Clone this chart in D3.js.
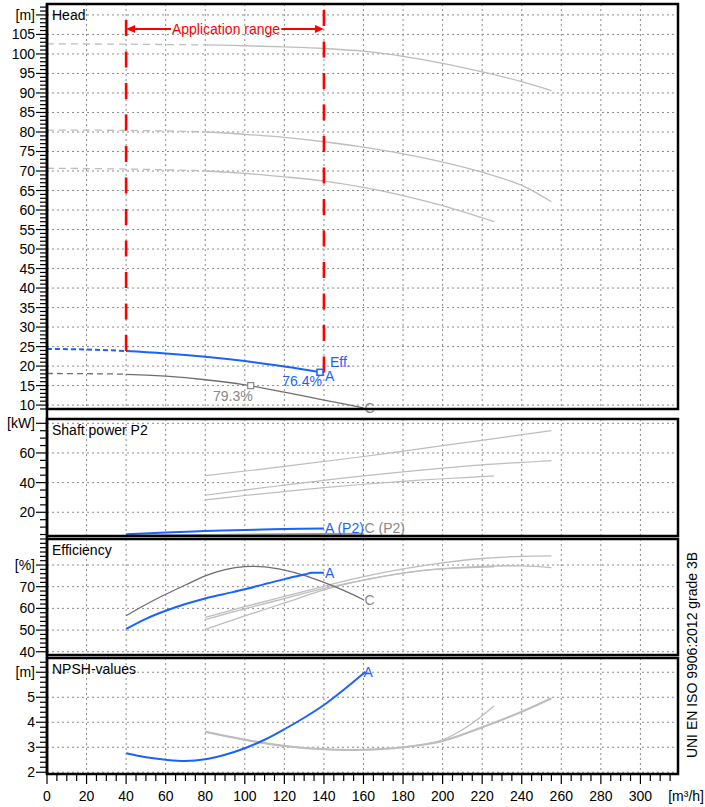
<!DOCTYPE html>
<html>
<head>
  <style>
    body { margin: 0; padding: 0; background-color: #fff; }
    svg text { font-family: "Liberation Sans", Arial, sans-serif; }
  </style>
</head>
<body>
  <svg id="chart" width="705" height="807"></svg>

  <script src="https://d3js.org/d3.v7.min.js"></script>
  <script>
    // ---- data ----
    var flowTicks = [0, 20, 40, 60, 80, 100, 120, 140, 160, 180, 200, 220, 240, 260, 280, 300];

    // head [m³/h, m]
    var headA = [[0, 24.4], [20, 24.25], [40, 23.85], [60, 23.25], [80, 22.4], [100, 21.3], [120, 19.9], [140, 18.3]];
    var headC = [[0, 18.1], [20, 18.05], [40, 17.9], [60, 17.4], [80, 16.5], [100, 15.2], [120, 13.3], [140, 11.3], [160, 9.3]];
    var headG1 = [[0, 102.6], [40, 102.5], [80, 102.3], [100, 102.1], [120, 101.8], [140, 101.4], [160, 100.7], [180, 99.4], [200, 97.6], [220, 95.4], [240, 92.9], [255, 90.6]];
    var headG2 = [[0, 80.5], [40, 80.4], [80, 80.0], [100, 79.4], [120, 78.6], [140, 77.5], [160, 76.1], [180, 74.4], [200, 72.3], [220, 69.7], [240, 66.3], [255, 62.1]];
    var headG3 = [[0, 70.7], [40, 70.5], [80, 70.0], [100, 69.4], [120, 68.5], [140, 67.4], [160, 65.8], [180, 63.7], [200, 61.1], [226, 57.0]];
    var bepA = [138, 18.4];
    var bepC = [103, 15.0];

    // shaft power P2 [kW]
    var powerA = [[40, 5.2], [60, 6.4], [80, 7.3], [100, 8.1], [120, 8.7], [140, 9.1]];
    var powerC = [[40, 4.3], [80, 4.7], [120, 5.1], [160, 5.6]];
    var powerG1 = [[80, 44.7], [120, 50.9], [160, 57.6], [200, 64.9], [255, 75.0]];
    var powerG2 = [[80, 31.5], [100, 35.0], [120, 38.3], [140, 41.5], [160, 44.6], [180, 47.3], [200, 49.8], [220, 52.0], [240, 53.6], [255, 54.8]];
    var powerG3 = [[80, 28.3], [100, 31.3], [120, 34.0], [140, 36.6], [160, 38.9], [180, 40.9], [200, 42.6], [226, 44.5]];

    // efficiency [%]
    var effA = [[40, 50.5], [50, 55.2], [60, 58.9], [70, 62.0], [80, 64.6], [90, 66.7], [100, 68.8], [110, 71.2], [120, 73.5], [130, 75.6], [134, 76.4], [140, 76.4]];
    var effC = [[40, 56.6], [50, 61.8], [60, 66.5], [70, 70.8], [80, 75.0], [90, 77.9], [100, 79.3], [110, 79.1], [120, 77.6], [130, 75.2], [140, 72.0], [150, 68.3], [160, 64.0]];
    var effG1 = [[80, 55.8], [100, 60.8], [120, 65.5], [140, 70.2], [160, 74.6], [180, 78.2], [200, 81.0], [220, 83.0], [240, 84.0], [255, 84.2]];
    var effG2 = [[80, 54.8], [100, 59.8], [120, 64.5], [140, 69.2], [160, 73.0], [180, 76.3], [200, 78.3], [220, 79.4], [240, 79.6], [255, 78.8]];
    var effG3 = [[80, 50.3], [100, 56.5], [120, 62.5], [140, 68.5], [160, 73.0], [180, 76.3], [200, 78.2], [226, 79.2]];

    // NPSH [m]
    var npshA = [[40, 2.76], [50, 2.6], [60, 2.5], [70, 2.45], [80, 2.52], [90, 2.7], [100, 2.96], [110, 3.3], [120, 3.72], [130, 4.18], [140, 4.69], [150, 5.3], [161, 6.02]];
    var npshG1 = [[80, 3.62], [100, 3.3], [120, 3.05], [140, 2.92], [160, 2.9], [180, 3.0], [200, 3.25], [220, 3.8], [240, 4.42], [255, 4.96]];
    var npshG3 = [[80, 3.62], [100, 3.3], [120, 3.05], [140, 2.92], [160, 2.9], [180, 3.0], [200, 3.3], [213, 3.85], [226, 4.65]];

    var appRange = [40, 140];

    // ---- layout ----
    var blue = "#1a62ff", dark = "#6e6e6e", light = "#bdbdbd", red = "#ff0000";
    var svg = d3.select("#chart");
    svg.append("rect").attr("width", 705).attr("height", 807).attr("fill", "#fff");

    var x = d3.scaleLinear().domain([0, 319]).range([47, 678]);

    var panels = {
      head: { top: 4, bottom: 409, domain: [9, 112.8], major: d3.range(10, 111, 5), minor: 1, unit: "[m]", title: "Head" },
      power: { top: 419, bottom: 536, domain: [4, 82.9], major: [20, 40, 60, 80], minor: 5, unit: "[kW]", title: "Shaft power P2" },
      eff: { top: 539, bottom: 655, domain: [38.5, 92], major: [40, 50, 60, 70, 80], minor: 2, unit: "[%]", title: "Efficiency" },
      npsh: { top: 658, bottom: 774, domain: [1.93, 6.57], major: [2, 3, 4, 5, 6], minor: 0.2, unit: "[m]", title: "NPSH-values" }
    };
    var unitAt = { head: 110, power: 80, eff: 80, npsh: 6 };

    Object.keys(panels).forEach(function (k) {
      var p = panels[k];
      p.y = d3.scaleLinear().domain(p.domain).range([p.bottom, p.top]);
      var g = svg.append("g");

      // grid
      flowTicks.forEach(function (f) {
        if (f === 0) return;
        g.append("line")
          .attr("x1", x(f)).attr("x2", x(f))
          .attr("y1", p.top).attr("y2", p.bottom)
          .attr("stroke", "#8a8a8a").attr("stroke-width", 1)
          .attr("stroke-dasharray", "2,3");
      });
      p.major.forEach(function (v) {
        if (v < p.domain[0] || v > p.domain[1]) return;
        g.append("line")
          .attr("x1", x(0)).attr("x2", x(319))
          .attr("y1", p.y(v)).attr("y2", p.y(v))
          .attr("stroke", "#8a8a8a").attr("stroke-width", 1)
          .attr("stroke-dasharray", "2,3");
      });

      // ruler ticks on the left
      var n0 = Math.ceil(p.domain[0] / p.minor), n1 = Math.floor(p.domain[1] / p.minor);
      for (var i = n0; i <= n1; i++) {
        var v = +(i * p.minor).toFixed(3);
        var isMajor = p.major.indexOf(v) >= 0;
        svg.append("line")
          .attr("x1", isMajor ? 36 : 40).attr("x2", 47)
          .attr("y1", p.y(v)).attr("y2", p.y(v))
          .attr("stroke", "#000").attr("stroke-width", 1.2);
      }
      p.major.forEach(function (v) {
        if (v < p.domain[0] || v > p.domain[1]) return;
        svg.append("text")
          .attr("x", 35).attr("y", p.y(v) + 5)
          .attr("text-anchor", "end")
          .attr("font-size", 14)
          .text(v === unitAt[k] ? p.unit : v);
      });

      // title
      svg.append("text")
        .attr("x", 52).attr("y", p.top + 16)
        .attr("font-size", 14)
        .text(p.title);

      // clip for curves
      svg.append("clipPath").attr("id", "clip-" + k)
        .append("rect")
        .attr("x", x(0)).attr("y", p.top)
        .attr("width", x(319) - x(0)).attr("height", p.bottom - p.top);
    });

    function line(p) {
      return d3.line()
        .x(function (d) { return x(d[0]); })
        .y(function (d) { return p.y(d[1]); })
        .curve(d3.curveCatmullRom.alpha(0.5));
    }

    // draws a curve dashed up to `from` and solid after it
    var clipCount = 0;
    function curve(k, data, color, width, from, dash) {
      var p = panels[k];
      var gc = svg.append("g").attr("clip-path", "url(#clip-" + k + ")");
      if (from != null) {
        var idA = "c" + (clipCount++), idB = "c" + (clipCount++);
        svg.append("clipPath").attr("id", idA).append("rect")
          .attr("x", 0).attr("y", 0).attr("width", x(from)).attr("height", 807);
        svg.append("clipPath").attr("id", idB).append("rect")
          .attr("x", x(from)).attr("y", 0).attr("width", 705).attr("height", 807);
        gc.append("path").datum(data)
          .attr("d", line(p)).attr("fill", "none")
          .attr("stroke", color).attr("stroke-width", width)
          .attr("stroke-dasharray", dash)
          .attr("clip-path", "url(#" + idA + ")");
        gc.append("path").datum(data)
          .attr("d", line(p)).attr("fill", "none")
          .attr("stroke", color).attr("stroke-width", width)
          .attr("clip-path", "url(#" + idB + ")");
      } else {
        gc.append("path").datum(data)
          .attr("d", line(p)).attr("fill", "none")
          .attr("stroke", color).attr("stroke-width", width);
      }
    }

    function label(k, q, v, txt, color, dx, dy, anchor) {
      var p = panels[k];
      svg.append("text")
        .attr("x", x(q) + (dx || 0)).attr("y", p.y(v) + (dy || 0))
        .attr("text-anchor", anchor || "start")
        .attr("font-size", 14)
        .attr("fill", color)
        .text(txt);
    }

    // head
    curve("head", headG1, light, 1.3, 80, "7,5");
    curve("head", headG2, light, 1.3, 80, "7,5");
    curve("head", headG3, light, 1.3, 80, "7,5");
    curve("head", headC, dark, 1.3, 40, "6,4");
    curve("head", headA, blue, 2, 40, "5,3");

    // application range
    var hp = panels.head;
    svg.append("line")
      .attr("x1", x(appRange[0])).attr("x2", x(appRange[0]))
      .attr("y1", 20).attr("y2", hp.y(headA[2][1]))
      .attr("stroke", red).attr("stroke-width", 2.6).attr("stroke-dasharray", "16,15.5");
    svg.append("line")
      .attr("x1", x(appRange[1])).attr("x2", x(appRange[1]))
      .attr("y1", 10).attr("y2", hp.y(headA[headA.length - 1][1]))
      .attr("stroke", red).attr("stroke-width", 2.6).attr("stroke-dasharray", "16,15.5");
    var ay = 29;
    svg.append("line")
      .attr("x1", x(appRange[0]) + 4).attr("x2", x(appRange[1]) - 4)
      .attr("y1", ay).attr("y2", ay)
      .attr("stroke", red).attr("stroke-width", 2);
    svg.append("path")
      .attr("d", "M" + x(appRange[0]) + "," + ay + "l9,-4l0,8z")
      .attr("fill", red);
    svg.append("path")
      .attr("d", "M" + x(appRange[1]) + "," + ay + "l-9,-4l0,8z")
      .attr("fill", red);
    var appText = svg.append("text")
      .attr("x", (x(appRange[0]) + x(appRange[1])) / 2 + 1).attr("y", ay + 5)
      .attr("text-anchor", "middle")
      .attr("font-size", 14)
      .attr("fill", red)
      .text("Application range");
    var bb = appText.node().getBBox();
    svg.append("rect")
      .attr("x", bb.x - 1).attr("y", ay - 2).attr("width", bb.width + 2).attr("height", 4)
      .attr("fill", "#fff");
    appText.raise();

    // best efficiency markers
    svg.append("rect")
      .attr("x", x(bepC[0]) - 3).attr("y", hp.y(bepC[1]) - 3)
      .attr("width", 6).attr("height", 6)
      .attr("fill", "#fff").attr("stroke", "#888").attr("stroke-width", 1.2);
    svg.append("rect")
      .attr("x", x(bepA[0]) - 3).attr("y", hp.y(bepA[1]) - 3)
      .attr("width", 6).attr("height", 6)
      .attr("fill", "#fff").attr("stroke", blue).attr("stroke-width", 1.5);
    label("head", bepC[0], bepC[1], "79.3%", "#888", 2, 15, "end");
    label("head", bepA[0], bepA[1], "76.4%", blue, 2, 14, "end");
    label("head", bepA[0], bepA[1], "Eff.", blue, 10, -5);
    label("head", 140, headA[headA.length - 1][1], "A", blue, 1, 8);
    label("head", 160, headC[headC.length - 1][1], "C", "#888", 1, 5);

    // power
    curve("power", powerG1, light, 1.2);
    curve("power", powerG2, light, 1.2);
    curve("power", powerG3, light, 1.2);
    curve("power", powerC, "#999", 2);
    curve("power", powerA, blue, 2);
    label("power", 140, powerA[powerA.length - 1][1], "A (P2)", blue, 1, 5);
    label("power", 160, powerA[powerA.length - 1][1], "C (P2)", "#888", 1, 5);

    // efficiency
    curve("eff", effG1, light, 1.3);
    curve("eff", effG2, light, 1.3);
    curve("eff", effG3, light, 1.3);
    curve("eff", effC, dark, 1.3);
    curve("eff", effA, blue, 2);
    label("eff", 140, effA[effA.length - 1][1], "A", blue, 1, 5);
    label("eff", 160, effC[effC.length - 1][1], "C", "#888", 1, 5);

    // NPSH
    curve("npsh", npshG1, light, 2);
    curve("npsh", npshG3, light, 1.3);
    curve("npsh", npshA, blue, 2);
    label("npsh", 161, npshA[npshA.length - 1][1], "A", blue, -2, 5);

    // panel frames
    Object.keys(panels).forEach(function (k) {
      var p = panels[k];
      svg.append("rect")
        .attr("x", x(0)).attr("y", p.top)
        .attr("width", x(319) - x(0)).attr("height", p.bottom - p.top)
        .attr("fill", "none").attr("stroke", "#000").attr("stroke-width", 2.5);
    });
    svg.append("line")
      .attr("x1", x(0)).attr("x2", x(0)).attr("y1", 4).attr("y2", 774)
      .attr("stroke", "#000").attr("stroke-width", 2.5);

    // flow axis
    for (var f = 0; f <= 315; f += 5) {
      svg.append("line")
        .attr("x1", x(f)).attr("x2", x(f))
        .attr("y1", 774).attr("y2", f % 20 === 0 ? 784 : 781)
        .attr("stroke", "#000").attr("stroke-width", 1.2);
    }
    flowTicks.forEach(function (f) {
      svg.append("text")
        .attr("x", x(f)).attr("y", 801)
        .attr("text-anchor", "middle")
        .attr("font-size", 14)
        .text(f);
    });
    svg.append("text")
      .attr("x", 704).attr("y", 801)
      .attr("text-anchor", "end")
      .attr("font-size", 14)
      .text("[m³/h]");

    svg.append("text")
      .attr("transform", "translate(697,655) rotate(-90)")
      .attr("text-anchor", "middle")
      .attr("font-size", 14)
      .text("UNI EN ISO 9906:2012 grade 3B");
  </script>
</body>
</html>
